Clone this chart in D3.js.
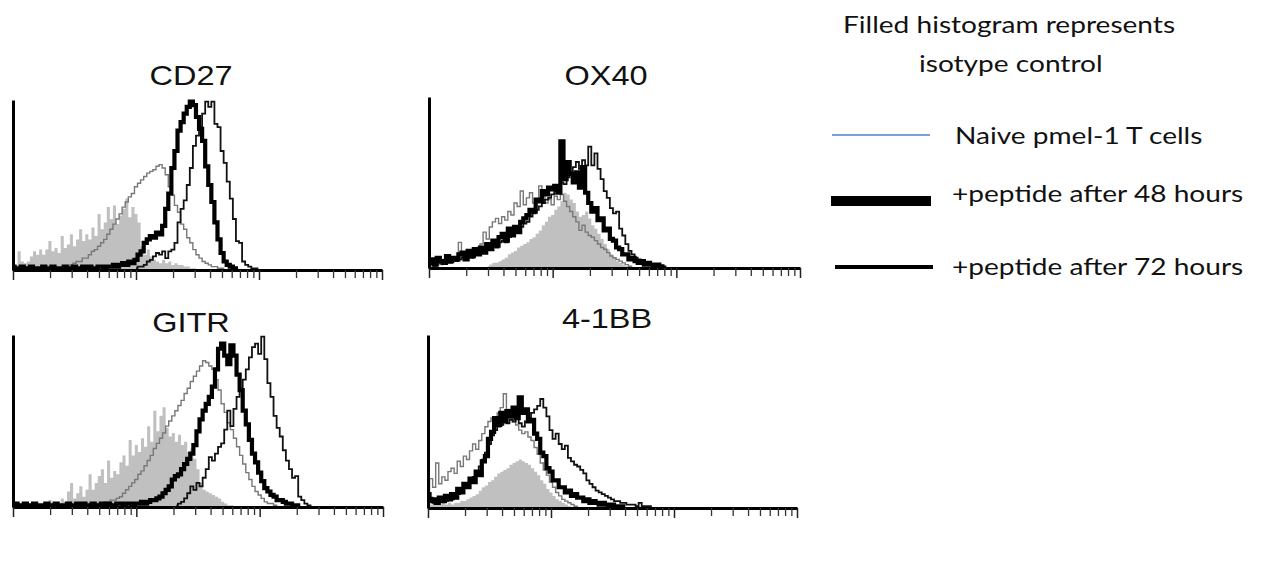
<!DOCTYPE html>
<html>
<head>
<meta charset="utf-8">
<script src="https://cdn.jsdelivr.net/npm/d3@7"></script>
<style>
  html, body { margin: 0; padding: 0; background: #fff; }
  svg { display: block; }
</style>
</head>
<body>
<svg id="chart" width="1264" height="570"></svg>
<script>
// Flow cytometry histograms of co-stimulatory markers on pmel-1 T cells.
// Fluorescence is on a 3-decade log axis; counts are % of the panel's mode.
// Each histogram is stored in channel groups of 0.025 decade, starting at the
// group index given in the matching *Start array (isotype, naive, 48 h, 72 h).

const markers = ["CD27", "OX40", "GITR", "4-1BB"];
const legendLabels = ["Naive pmel-1 T cells", "+peptide after 48 hours", "+peptide after 72 hours"];
const noteLines = ["Filled histogram represents", "isotype control"];
const binWidth = 0.025;
const majorTicks = [1, 10, 100, 1000];

// ---- CD27 ----
const cd27Start = [0, 17, 0, 40];
const cd27Isotype = [0,3,11,5,4,5,8,11,9,12,9,12,17,11,13,10,20,13,15,21,14,18,24,17,21,18,25,20,33,24,28,37,30,38,27,32,36,42,31,37,33,28,14,9,12,8,6,5,4,6,4,5,3,4,3,3,2,2,1,1,0];
const cd27Naive = [1,2,3,4,5,5,7,7,9,11,12,14,16,18,21,24,27,30,33,37,40,43,45,49,51,53,55,57,58,59,61,62,60,56,49,44,38,34,27,24,19,16,12,9,7,5,4,3,2,2,1,1,0];
const cd27H48 = [2,1,1,2,1,1,2,1,1,1,2,1,1,2,1,1,1,2,1,1,2,1,1,2,1,2,1,1,2,2,1,2,2,3,2,
                 3,4,3,5,4,6,9,11,16,18,20,19,22,21,26,36,45,60,70,82,87,92,96,99,97,90,83,76,61,50,40,28,18,10,5,3,2,1,0];
const cd27H72 = [1,2,2,3,5,6,8,10,9,11,7,11,12,16,28,36,41,50,60,73,79,84,92,99,96,99,86,84,70,63,52,42,30,17,16,5,3,2,1,1,0];

// ---- OX40 ----
const ox40Start = [19, 0, 0, 0];
const ox40Isotype = [1,2,3,3,4,5,6,8,9,10,12,13,14,15,17,18,20,22,25,27,30,31,34,36,39,44,43,40,38,33,30,31,33,29,25,23,20,17,14,11,8,6,4,3,2,1,0];
const ox40Naive = [2,3,1,4,2,5,3,4,6,5,15,7,6,9,8,10,12,14,21,17,24,27,29,26,30,28,33,31,38,36,45,37,41,44,38,40,48,42,38,40,37,42,40,43,39,36,33,30,27,22,25,21,19,18,16,14,12,11,9,7,6,5,4,3,2,1,0];
const ox40H48 = [3,5,2,6,4,3,7,4,6,5,8,9,5,10,7,11,8,12,9,14,
                 11,16,13,18,20,16,23,19,24,21,27,29,31,34,33,40,39,45,43,47,46,48,44,74,52,62,55,50,56,47,59,44,38,33,35,28,29,22,23,17,16,12,11,8,8,5,6,4,3,4,2,3,2,1,2,1,0];
const ox40H72 = [2,3,2,4,3,3,4,3,5,4,5,6,5,7,6,8,8,9,10,11,11,13,12,15,16,15,18,19,21,22,24,26,27,30,32,34,36,38,40,41,43,45,47,50,49,53,56,59,62,58,63,60,71,60,67,58,52,45,41,35,32,33,23,19,14,10,8,6,5,4,3,3,2,2,1,1,1,0];

// ---- GITR ----
const gitrStart = [0, 25, 0, 53];
const gitrIsotype = [0,1,1,2,3,2,1,1,2,1,2,1,4,2,1,2,5,3,9,14,5,8,12,6,10,19,10,14,18,22,14,27,17,21,19,26,30,24,39,30,36,32,40,35,47,38,56,44,53,58,46,41,43,38,42,36,38,32,34,28,22,14,10,9,8,7,6,5,3,2,1,1,0];
const gitrNaive = [1,1,1,2,2,3,3,4,4,5,6,8,10,12,14,16,19,21,24,27,30,34,37,40,43,47,50,53,56,59,62,66,69,73,76,79,82,85,84,82,80,74,68,60,55,49,45,40,35,30,25,20,16,12,9,7,5,3,2,2,1,0];
const gitrH48 = [1,2,1,1,2,1,1,2,1,1,1,2,1,1,2,1,1,1,2,1,1,2,1,2,1,1,2,1,1,2,1,2,1,1,2,2,1,2,2,1,2,
                 2,3,2,3,4,4,5,6,8,10,12,16,18,19,22,25,28,31,36,44,51,56,60,64,70,80,92,95,88,83,94,88,77,68,56,48,39,31,26,20,15,11,9,7,6,4,4,3,2,2,1,1,0];
const gitrH72 = [1,2,3,5,8,12,10,14,12,17,22,29,27,31,35,37,45,56,47,57,64,69,74,80,87,93,95,89,99,86,72,64,53,46,41,33,27,22,17,18,6,4,2,1,0];

// ---- 4-1BB ----
const cd137Start = [0, 0, 0, 0];
const cd137Isotype = [0,2,4,3,2,3,2,3,2,3,3,4,4,5,6,7,8,10,12,13,15,16,18,20,21,22,23,25,26,27,28,27,26,25,23,21,19,16,14,11,9,7,5,4,3,2,1,0];
const cd137Naive = [10,17,12,26,14,18,16,21,23,20,27,24,30,28,33,37,34,39,43,47,50,52,51,55,58,66,57,52,50,48,45,43,44,41,39,35,31,26,22,19,15,12,9,7,5,4,3,2,1,0];
const cd137H48 = [8,4,5,3,6,4,7,5,8,6,11,9,14,12,17,15,21,19,27,30,40,44,52,48,55,50,56,53,58,52,64,55,57,50,51,43,40,32,30,23,21,16,16,12,12,9,10,7,8,6,6,4,5,3,4,3,2,3,2,1,2,1,1,1,0];
const cd137H72 = [4,6,3,5,4,5,4,6,5,7,8,10,12,14,16,18,21,24,28,32,37,42,45,47,48,50,49,51,50,52,49,47,50,52,55,57,59,63,58,53,45,40,43,37,34,36,29,27,25,24,22,20,16,14,12,10,9,8,7,6,5,4,4,3,3,2,2,2,1,3,1,1,1,0];

// Panel placement on the page
const panels = [
  { start: cd27Start,  series: [cd27Isotype,  cd27Naive,  cd27H48,  cd27H72],  x0: 13,  x1: 382, top: 100, base: 270, tx: 191, ty: 85 },
  { start: ox40Start,  series: [ox40Isotype,  ox40Naive,  ox40H48,  ox40H72],  x0: 429, x1: 800, top: 97,  base: 268, tx: 606, ty: 85 },
  { start: gitrStart,  series: [gitrIsotype,  gitrNaive,  gitrH48,  gitrH72],  x0: 13,  x1: 383, top: 335, base: 507, tx: 191, ty: 332 },
  { start: cd137Start, series: [cd137Isotype, cd137Naive, cd137H48, cd137H72], x0: 428, x1: 797, top: 335, base: 508, tx: 607, ty: 328 }
];

const svg = d3.select("#chart");
svg.append("rect").attr("width", 1264).attr("height", 570).attr("fill", "#fff");

const toPoints = (values, startBin) =>
  values.map((v, k) => ({ chan: Math.pow(10, (startBin + k) * binWidth), v }));

panels.forEach((p, pi) => {
  const g = svg.append("g");
  const x = d3.scaleLog().domain([1, 1000]).range([p.x0, p.x1]);
  const y = d3.scaleLinear().domain([0, 100]).range([p.base, p.top]);

  const pts = p.series.map((vals, si) => toPoints(vals, p.start[si]));

  // isotype control: filled histogram
  const area = d3.area().curve(d3.curveStep)
    .x(d => x(d.chan)).y0(y(0)).y1(d => y(d.v));
  g.append("path").datum(pts[0])
    .attr("d", area).attr("fill", "#c0c0c0").attr("stroke", "none");

  const line = d3.line().curve(d3.curveStep)
    .x(d => x(d.chan)).y(d => y(d.v));

  // naive (thin grey), 72 h (thin black), 48 h (thick black)
  g.append("path").datum(pts[1]).attr("d", line)
    .attr("fill", "none").attr("stroke", "#787878").attr("stroke-width", 1.4);
  g.append("path").datum(pts[3]).attr("d", line)
    .attr("fill", "none").attr("stroke", "#111").attr("stroke-width", 1.8);
  g.append("path").datum(pts[2]).attr("d", line)
    .attr("fill", "none").attr("stroke", "#000").attr("stroke-width", 4.2);

  // log axis: minor ticks, then decade ticks
  const minor = x.ticks().filter(t => !majorTicks.includes(t));
  const xAxisMinor = g.append("g").attr("transform", `translate(0,${p.base})`)
    .call(d3.axisBottom(x).tickValues(minor).tickSize(8).tickSizeOuter(0).tickFormat(""));
  xAxisMinor.select(".domain").attr("stroke", "#000").attr("stroke-width", 3);
  xAxisMinor.selectAll(".tick line").attr("stroke", "#333").attr("stroke-width", 1.3);
  const xAxisMajor = g.append("g").attr("transform", `translate(0,${p.base})`)
    .call(d3.axisBottom(x).tickValues(majorTicks).tickSize(10).tickSizeOuter(0).tickFormat(""));
  xAxisMajor.select(".domain").remove();
  xAxisMajor.selectAll(".tick line").attr("stroke", "#222").attr("stroke-width", 1.5);

  const yAxis = g.append("g").attr("transform", `translate(${p.x0},0)`)
    .call(d3.axisLeft(y).tickValues([]).tickSizeOuter(0));
  yAxis.select(".domain").attr("stroke", "#000").attr("stroke-width", 3);

  g.append("text")
    .attr("transform", `translate(${p.tx},${p.ty}) scale(1.16,1)`)
    .attr("text-anchor", "middle")
    .attr("font-family", "'Liberation Sans', Arial, sans-serif")
    .attr("font-size", 28)
    .attr("fill", "#111")
    .text(markers[pi]);
});

// Legend
const legendFont = "Lato, 'Open Sans', sans-serif";
const note = svg.append("g");
[[843, 33], [919, 72]].forEach((pos, i) => {
  note.append("text")
    .attr("transform", `translate(${pos[0]},${pos[1]}) scale(1.17,1)`)
    .attr("font-family", legendFont).attr("font-size", 24).attr("fill", "#111")
    .text(noteLines[i]);
});

const legendRows = [
  { y: 135, ty: 144, x1: 832, x2: 930, color: "#4f7fc0", width: 1.3 },
  { y: 201, ty: 202, x1: 831, x2: 931, color: "#000", width: 10 },
  { y: 267, ty: 275, x1: 835, x2: 933, color: "#000", width: 4 }
];
const legend = svg.append("g");
legendRows.forEach((r, i) => {
  legend.append("line")
    .attr("x1", r.x1).attr("x2", r.x2).attr("y1", r.y).attr("y2", r.y)
    .attr("stroke", r.color).attr("stroke-width", r.width);
  legend.append("text")
    .attr("transform", `translate(${i === 0 ? 955 : 952},${r.ty}) scale(1.17,1)`)
    .attr("font-family", legendFont).attr("font-size", 24).attr("fill", "#111")
    .text(legendLabels[i]);
});
</script>
</body>
</html>
